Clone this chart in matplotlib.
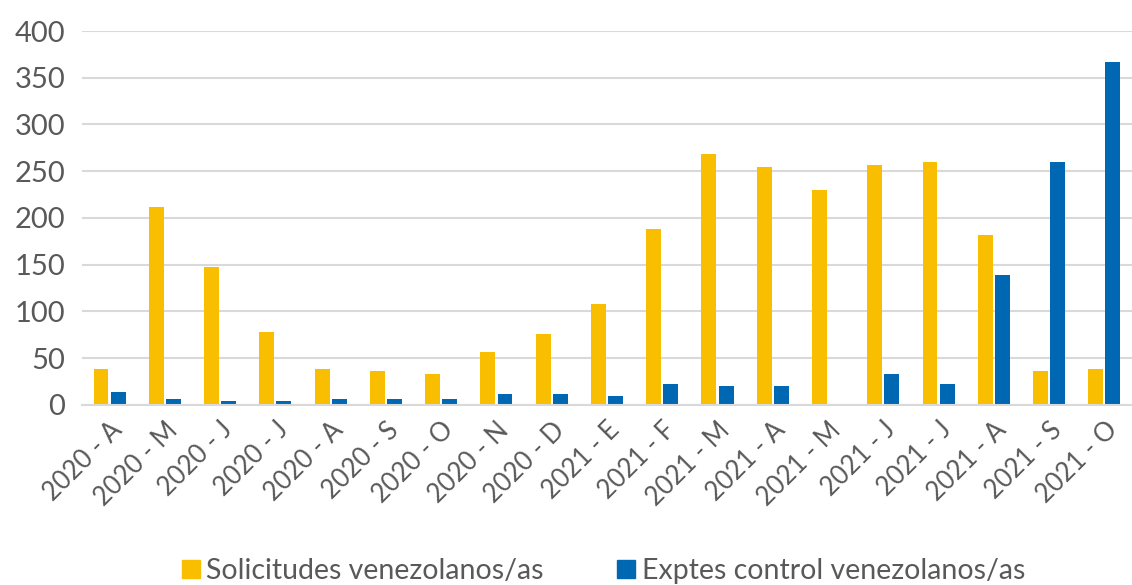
import numpy as np
import matplotlib
matplotlib.use("Agg")
import matplotlib.pyplot as plt
from matplotlib.lines import Line2D

plt.rcParams['font.family'] = ['Lato', 'DejaVu Sans']

meses = ["2020 - A", "2020 - M", "2020 - J", "2020 - J", "2020 - A", "2020 - S",
         "2020 - O", "2020 - N", "2020 - D", "2021 - E", "2021 - F", "2021 - M",
         "2021 - A", "2021 - M", "2021 - J", "2021 - J", "2021 - A", "2021 - S",
         "2021 - O"]
solicitudes = [38, 212, 147, 78, 38, 36, 33, 57, 76, 108, 188, 268, 254, 230, 257, 260, 182, 36, 38]
exptes = [14, 6, 4, 4, 6, 6, 6, 12, 12, 9, 22, 20, 20, 0, 33, 22, 139, 260, 367]

amarillo = "#F9BE00"
azul = "#0068B2"
gris = "#595959"

fig = plt.figure(figsize=(11.32, 5.85), dpi=100)
ax = fig.add_axes([0.0724, 0.308, 0.9276, 0.639])

x = np.arange(len(meses))
w = 0.27
ax.bar(x - 0.155, solicitudes, w, color=amarillo)
ax.bar(x + 0.155, exptes, w, color=azul)

ax.set_xlim(-0.5, len(meses) - 0.5)
ax.set_ylim(0, 400)
ax.set_yticks(range(0, 401, 50))
ax.yaxis.grid(True, color="#D9D9D9", linewidth=1.5)
ax.set_axisbelow(True)
for s in ["top", "right", "left"]:
    ax.spines[s].set_visible(False)
ax.spines["bottom"].set_color("#D9D9D9")
ax.spines["bottom"].set_linewidth(1.5)
ax.tick_params(axis="both", length=0, colors=gris)
ax.tick_params(axis="y", pad=12, labelsize=21)
ax.set_xticks(x)
ax.set_xticklabels(meses, rotation=45, ha="right", rotation_mode="anchor", fontsize=18.5)
ax.tick_params(axis="x", pad=9)

handles = [Line2D([], [], marker="s", linestyle="", color=amarillo, markersize=13),
           Line2D([], [], marker="s", linestyle="", color=azul, markersize=13)]
fig.legend(handles, ["Solicitudes venezolanos/as", "Exptes control venezolanos/as"],
           loc="lower center", bbox_to_anchor=(0.532, -0.042), ncol=2, frameon=False,
           fontsize=20.5, labelcolor=gris, handletextpad=0.15, columnspacing=2.5,
           handlelength=0.8)

fig.savefig("out.png", dpi=100)
